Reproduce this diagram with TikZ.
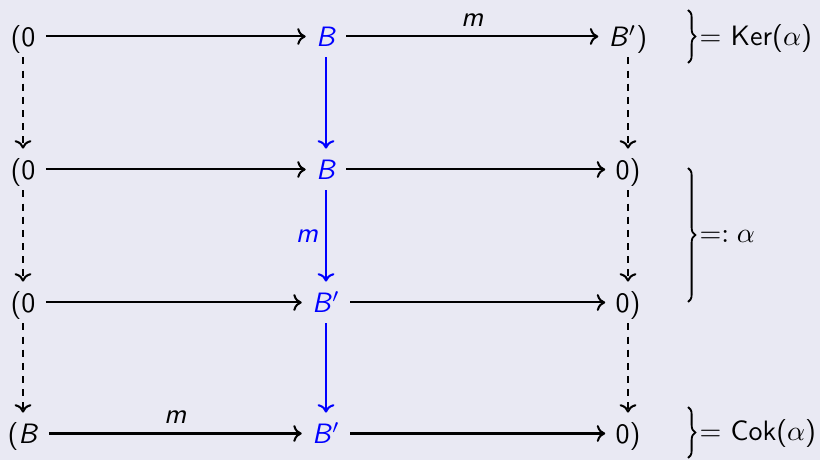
\documentclass[tikz,border=0pt]{standalone}
\usepackage{amsmath}
\usetikzlibrary{arrows.meta,decorations.pathreplacing}
\definecolor{bgc}{RGB}{233,233,243}
\definecolor{bluec}{RGB}{0,0,255}
\tikzset{
  obj/.style={font=\sffamily, text height=7.5pt, text depth=0pt, inner sep=3.5pt, anchor=base},
  bobj/.style={obj, text=bluec},
  tip/.style={-{To[length=3pt,width=6pt]}},
  harr/.style={tip, line width=0.72pt},
  varr/.style={tip, draw=bluec, line width=0.72pt},
  darr/.style={tip, line width=0.72pt, dash pattern=on 2.5pt off 2.2pt},
  lab/.style={font=\sffamily\itshape},
  brc/.style={decorate, decoration={brace, amplitude=2.6pt}, line width=0.65pt},
  rtxt/.style={font=\sffamily, anchor=base west, inner sep=0pt},
}
\begin{document}
\begin{tikzpicture}[x=0.357pt, y=-0.357pt]
\fill[bgc] (0,0) rectangle (820,460);
\useasboundingbox (0,0) rectangle (820,460);
% row 1
\node[obj]  (a1) at (23,47)  {(0};
\node[bobj] (b1) at (326,47) {\textit{B}};
\node[obj]  (c1) at (628,47) {\textit{B}$'$)};
% row 2
\node[obj]  (a2) at (23,180)  {(0};
\node[bobj] (b2) at (326,180) {\textit{B}};
\node[obj]  (c2) at (628,180) {0)};
% row 3
\node[obj]  (a3) at (23,313)  {(0};
\node[bobj] (b3) at (326,313) {\textit{B}$'$};
\node[obj]  (c3) at (628,313) {0)};
% row 4
\node[obj]  (a4) at (23,444)  {(\textit{B}};
\node[bobj] (b4) at (326,444) {\textit{B}$'$};
\node[obj]  (c4) at (628,444) {0)};
% horizontal arrows
\draw[harr] (a1) -- (b1);
\draw[harr] (b1) -- node[lab, above] {m} (c1);
\draw[harr] (a2) -- (b2);
\draw[harr] (b2) -- (c2);
\draw[harr] (a3) -- (b3);
\draw[harr] (b3) -- (c3);
\draw[harr] (a4) -- node[lab, above] {m} (b4);
\draw[harr] (b4) -- (c4);
% vertical blue arrows
\draw[varr] (b1) -- (b2);
\draw[varr] (b2) -- node[lab, left, text=bluec, inner sep=2.5pt] {m} (b3);
\draw[varr] (b3) -- (b4);
% dashed arrows
\draw[darr] (a1) -- (a2);
\draw[darr] (a2) -- (a3);
\draw[darr] (a3) -- (a4);
\draw[darr] (c1) -- (c2);
\draw[darr] (c2) -- (c3);
\draw[darr] (c3) -- (c4);
% braces
\coordinate (k1) at (688,10);  \coordinate (k2) at (688,63);
\coordinate (m1) at (688,168); \coordinate (m2) at (688,302);
\coordinate (n1) at (688,407); \coordinate (n2) at (688,458);
\draw[brc] (k1) -- (k2);
\draw[brc] (m1) -- (m2);
\draw[brc] (n1) -- (n2);
\node[rtxt] (t1) at (699,46) {$=$ Ker($\alpha$)};
\node[rtxt] (t2) at (699,243) {$=:\alpha$};
\node[rtxt] (t3) at (699,441) {$=$ Cok($\alpha$)};
\end{tikzpicture}
\end{document}
